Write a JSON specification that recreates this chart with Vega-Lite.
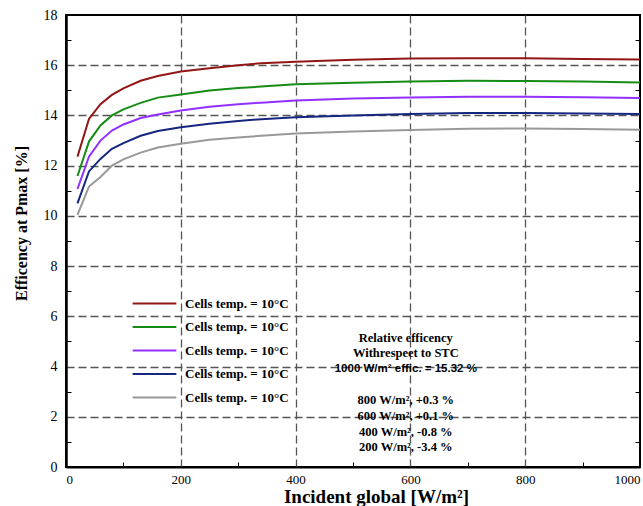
{
  "$schema": "https://vega.github.io/schema/vega-lite/v6.json",
  "width": 574,
  "height": 452,
  "autosize": {"type": "none"},
  "padding": {"left": 66, "top": 15, "right": 3, "bottom": 39},
  "background": "white",
  "config": {"view": {"stroke": "black", "strokeWidth": 2}, "font": "Liberation Serif"},
  "datasets": {
    "curves": [
      {"x": 20, "a": 12.36, "b": 11.59, "c": 11.07, "d": 10.5, "e": 10.04},
      {"x": 40, "a": 13.86, "b": 12.96, "c": 12.36, "d": 11.77, "e": 11.17},
      {"x": 60, "a": 14.45, "b": 13.6, "c": 13.0, "d": 12.27, "e": 11.55},
      {"x": 80, "a": 14.82, "b": 14.0, "c": 13.4, "d": 12.67, "e": 12.0},
      {"x": 100, "a": 15.08, "b": 14.24, "c": 13.64, "d": 12.9, "e": 12.25},
      {"x": 130, "a": 15.38, "b": 14.5, "c": 13.9, "d": 13.19, "e": 12.52},
      {"x": 160, "a": 15.57, "b": 14.71, "c": 14.04, "d": 13.38, "e": 12.72},
      {"x": 200, "a": 15.75, "b": 14.83, "c": 14.2, "d": 13.53, "e": 12.87},
      {"x": 250, "a": 15.88, "b": 14.99, "c": 14.35, "d": 13.67, "e": 13.03},
      {"x": 300, "a": 16.0, "b": 15.09, "c": 14.45, "d": 13.78, "e": 13.12},
      {"x": 340, "a": 16.08, "b": 15.15, "c": 14.51, "d": 13.85, "e": 13.19},
      {"x": 400, "a": 16.14, "b": 15.24, "c": 14.6, "d": 13.93, "e": 13.28},
      {"x": 500, "a": 16.22, "b": 15.3, "c": 14.67, "d": 14.0, "e": 13.36},
      {"x": 600, "a": 16.27, "b": 15.35, "c": 14.71, "d": 14.06, "e": 13.42},
      {"x": 700, "a": 16.28, "b": 15.38, "c": 14.74, "d": 14.1, "e": 13.47},
      {"x": 800, "a": 16.28, "b": 15.37, "c": 14.74, "d": 14.1, "e": 13.48},
      {"x": 900, "a": 16.25, "b": 15.35, "c": 14.72, "d": 14.08, "e": 13.46},
      {"x": 1000, "a": 16.23, "b": 15.31, "c": 14.69, "d": 14.06, "e": 13.43}
    ],
    "notes": [
      {"tx": 592, "ty": 5.14, "t": "Relative efficency"},
      {"tx": 592, "ty": 4.54, "t": "Withrespeet to STC"},
      {"tx": 592, "ty": 2.67, "t": "800 W/m², +0.3 %"},
      {"tx": 592, "ty": 2.03, "t": "600 W/m², +0.1 %"},
      {"tx": 592, "ty": 1.39, "t": "400 W/m², -0.8 %"},
      {"tx": 592, "ty": 0.8, "t": "200 W/m², -3.4 %"}
    ],
    "stc": [
      {"tx": 592, "ty": 3.9, "t": "1000 W/m² effic. = 15.32 %"}
    ]
  },
  "resolve": {"axis": {"y": "independent"}},
  "layer": [
    {
      "data": {"name": "curves"},
      "transform": [{"fold": ["a", "b", "c", "d", "e"], "as": ["s", "eff"]}],
      "mark": {"type": "line", "strokeWidth": 2},
      "encoding": {
        "x": {
          "field": "x", "type": "quantitative",
          "scale": {"domain": [0, 1000], "nice": false, "zero": false},
          "axis": {
            "values": [0, 100, 200, 300, 400, 500, 600, 700, 800, 900, 1000],
            "format": "d",
            "labelExpr": "datum.value % 200 == 0 ? datum.label : ''",
            "labelFont": "Liberation Serif", "labelFontSize": 13, "labelColor": "black",
            "labelFlush": true, "labelOverlap": false, "labelPadding": 11,
            "domainColor": "black", "domainWidth": 2,
            "tickColor": "black", "tickSize": -5, "tickWidth": 1,
            "tickOpacity": {"condition": {"test": "datum.value % 200 == 100", "value": 1}, "value": 0},
            "grid": true, "gridColor": "#555555", "gridDash": [8, 4], "gridWidth": 1.3,
            "gridOpacity": {"condition": {"test": "datum.value % 200 == 0 && datum.value > 0 && datum.value < 1000", "value": 1}, "value": 0},
            "title": "Incident global [W/m²]",
            "titleFont": "Liberation Serif", "titleFontSize": 19, "titleFontWeight": "bold", "titleColor": "black",
            "titleX": 310, "titleY": 35, "titleBaseline": "alphabetic"
          }
        },
        "y": {
          "field": "eff", "type": "quantitative",
          "scale": {"domain": [0, 18], "nice": false, "zero": false},
          "axis": {
            "values": [0, 1, 2, 3, 4, 5, 6, 7, 8, 9, 10, 11, 12, 13, 14, 15, 16, 17, 18],
            "format": "d",
            "labelExpr": "datum.value % 2 == 0 ? datum.label : ''",
            "labelFont": "Liberation Serif", "labelFontSize": 14, "labelColor": "black",
            "labelOverlap": false, "labelPadding": 14,
            "domainColor": "black", "domainWidth": 2.5,
            "tickColor": "black", "tickSize": -5, "tickWidth": 1,
            "tickOpacity": {"condition": {"test": "datum.value % 2 == 1", "value": 1}, "value": 0},
            "grid": true, "gridColor": "#555555", "gridDash": [8, 4], "gridWidth": 1.3,
            "gridOpacity": {"condition": {"test": "datum.value % 2 == 0 && datum.value > 0 && datum.value < 18", "value": 1}, "value": 0},
            "title": "Efficency at Pmax [%]",
            "titleFont": "Liberation Serif", "titleFontSize": 16, "titleFontWeight": "bold", "titleColor": "black",
            "titleX": -40, "titleY": 208, "titleAngle": -90, "titleBaseline": "alphabetic"
          }
        },
        "color": {
          "field": "s", "type": "nominal",
          "scale": {"domain": ["a", "b", "c", "d", "e"], "range": ["#931616", "#168C16", "#9130FF", "#16267F", "#999999"]},
          "legend": {
            "orient": "none", "legendX": 76, "legendY": 276, "title": null,
            "labelExpr": "'Cells temp. = 10°C'",
            "labelFont": "Liberation Serif", "labelFontWeight": "bold", "labelFontSize": 13, "labelColor": "black",
            "symbolType": "M-1.9,0H1.9", "symbolSize": 529, "symbolStrokeWidth": 2,
            "labelOffset": 18, "rowPadding": 3.5, "padding": 0
          }
        }
      }
    },
    {
      "data": {"name": "notes"},
      "mark": {"type": "text", "font": "Liberation Serif", "fontWeight": "bold", "fontSize": 12.5, "align": "center", "baseline": "middle", "color": "black"},
      "encoding": {
        "x": {"field": "tx", "type": "quantitative"},
        "y": {
          "field": "ty", "type": "quantitative",
          "axis": {
            "orient": "right", "values": [1, 3, 5, 7, 9, 11, 13, 15, 17],
            "labels": false, "domain": false, "grid": false,
            "tickSize": -5, "tickColor": "black", "tickWidth": 1, "title": null
          }
        },
        "text": {"field": "t"}
      }
    },
    {
      "data": {"name": "stc"},
      "mark": {"type": "text", "font": "Liberation Sans", "fontWeight": "bold", "fontSize": 11.5, "align": "center", "baseline": "middle", "color": "black"},
      "encoding": {
        "x": {"field": "tx", "type": "quantitative"},
        "y": {"field": "ty", "type": "quantitative", "axis": null},
        "text": {"field": "t"}
      }
    }
  ]
}
